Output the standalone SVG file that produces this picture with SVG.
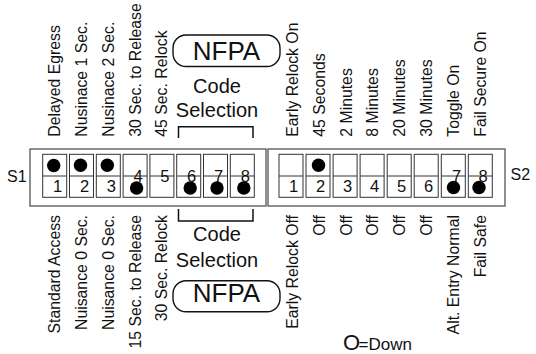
<svg xmlns="http://www.w3.org/2000/svg" width="536" height="354" viewBox="0 0 536 354">
<style>
text{font-family:"Liberation Sans",Arial,sans-serif;fill:#111}
.lbl{font-size:15.8px}
.top{text-anchor:start}
.bot{text-anchor:end}
.num{font-size:16.5px;text-anchor:middle}
.box{fill:#fff;stroke:#555;stroke-width:1.3}
.sw{fill:#fff;stroke:#333;stroke-width:1}
.mid{stroke:#333;stroke-width:1}
.dot{fill:#000}
.pill{fill:none;stroke:#111;stroke-width:1.4}
.br{fill:none;stroke:#111;stroke-width:1.5}
.big{font-size:26px;text-anchor:middle}
.cs{font-size:20px;text-anchor:middle}
</style>
<rect width="536" height="354" fill="#fff"/>

<g id="S1">
<rect class="box" x="30" y="149" width="236" height="57"/>
<g id="s1-sw1"><rect class="sw" x="42.7" y="154.3" width="24" height="43"/><line class="mid" x1="42.7" y1="176" x2="66.7" y2="176"/><circle class="dot" cx="53.7" cy="165.5" r="6.7"/><text class="num" x="57.7" y="192">1</text></g>
<g id="s1-sw2"><rect class="sw" x="69.5" y="154.3" width="24" height="43"/><line class="mid" x1="69.5" y1="176" x2="93.5" y2="176"/><circle class="dot" cx="80.5" cy="165.2" r="6.7"/><text class="num" x="84.5" y="192">2</text></g>
<g id="s1-sw3"><rect class="sw" x="96.3" y="154.3" width="24" height="43"/><line class="mid" x1="96.3" y1="176" x2="120.3" y2="176"/><circle class="dot" cx="107.3" cy="165.2" r="6.7"/><text class="num" x="111.3" y="192">3</text></g>
<g id="s1-sw4"><rect class="sw" x="123.1" y="154.3" width="24" height="43"/><line class="mid" x1="123.1" y1="176" x2="147.1" y2="176"/><circle class="dot" cx="136.6" cy="188" r="6.7"/><text class="num" x="138.1" y="181.8">4</text></g>
<g id="s1-sw5"><rect class="sw" x="149.9" y="154.3" width="24" height="43"/><line class="mid" x1="149.9" y1="176" x2="173.9" y2="176"/><text class="num" x="164.9" y="181.8">5</text></g>
<g id="s1-sw6"><rect class="sw" x="176.7" y="154.3" width="24" height="43"/><line class="mid" x1="176.7" y1="176" x2="200.7" y2="176"/><circle class="dot" cx="190.2" cy="188" r="6.7"/><text class="num" x="191.7" y="181.8">6</text></g>
<g id="s1-sw7"><rect class="sw" x="203.5" y="154.3" width="24" height="43"/><line class="mid" x1="203.5" y1="176" x2="227.5" y2="176"/><circle class="dot" cx="217" cy="188" r="6.7"/><text class="num" x="218.5" y="181.8">7</text></g>
<g id="s1-sw8"><rect class="sw" x="230.3" y="154.3" width="24" height="43"/><line class="mid" x1="230.3" y1="176" x2="254.3" y2="176"/><circle class="dot" cx="243.8" cy="188" r="6.7"/><text class="num" x="245.3" y="181.8">8</text></g>
<text x="7" y="182" font-size="16">S1</text>
</g>

<g id="S2">
<rect class="box" x="268" y="149" width="237" height="57"/>
<g id="s2-sw1"><rect class="sw" x="279" y="154.3" width="24" height="43"/><line class="mid" x1="279" y1="176" x2="303" y2="176"/><text class="num" x="293.5" y="192">1</text></g>
<g id="s2-sw2"><rect class="sw" x="306" y="154.3" width="24" height="43"/><line class="mid" x1="306" y1="176" x2="330" y2="176"/><circle class="dot" cx="318.5" cy="165.2" r="6.7"/><text class="num" x="320.5" y="192">2</text></g>
<g id="s2-sw3"><rect class="sw" x="333.1" y="154.3" width="24" height="43"/><line class="mid" x1="333.1" y1="176" x2="357.1" y2="176"/><text class="num" x="347.6" y="192">3</text></g>
<g id="s2-sw4"><rect class="sw" x="360.1" y="154.3" width="24" height="43"/><line class="mid" x1="360.1" y1="176" x2="384.1" y2="176"/><text class="num" x="374.6" y="192">4</text></g>
<g id="s2-sw5"><rect class="sw" x="387.2" y="154.3" width="24" height="43"/><line class="mid" x1="387.2" y1="176" x2="411.2" y2="176"/><text class="num" x="401.7" y="192">5</text></g>
<g id="s2-sw6"><rect class="sw" x="414.2" y="154.3" width="24" height="43"/><line class="mid" x1="414.2" y1="176" x2="438.2" y2="176"/><text class="num" x="428.7" y="192">6</text></g>
<g id="s2-sw7"><rect class="sw" x="441.3" y="154.3" width="24" height="43"/><line class="mid" x1="441.3" y1="176" x2="465.3" y2="176"/><circle class="dot" cx="453.5" cy="187.5" r="6.7"/><text class="num" x="456.5" y="181.8">7</text></g>
<g id="s2-sw8"><rect class="sw" x="468.3" y="154.3" width="24" height="43"/><line class="mid" x1="468.3" y1="176" x2="492.3" y2="176"/><circle class="dot" cx="479" cy="187.5" r="6.7"/><text class="num" x="483" y="181.8">8</text></g>
<text x="510.5" y="180" font-size="16">S2</text>
</g>

<g id="top-labels" class="lbl top">
<text transform="translate(60.2,136.7) rotate(-90)">Delayed Egress</text>
<text transform="translate(87,136.7) rotate(-90)">Nusinace 1 Sec.</text>
<text transform="translate(113.8,136.7) rotate(-90)">Nusinace 2 Sec.</text>
<text transform="translate(140.6,136.7) rotate(-90)">30 Sec. to Release</text>
<text transform="translate(167.4,136.7) rotate(-90)">45 Sec. Relock</text>
<text transform="translate(298,136.7) rotate(-90)">Early Relock On</text>
<text transform="translate(324.8,136.7) rotate(-90)">45 Seconds</text>
<text transform="translate(351.6,136.7) rotate(-90)">2 Minutes</text>
<text transform="translate(378.4,136.7) rotate(-90)">8 Minutes</text>
<text transform="translate(405.2,136.7) rotate(-90)">20 Minutes</text>
<text transform="translate(432,136.7) rotate(-90)">30 Minutes</text>
<text transform="translate(458.8,136.7) rotate(-90)">Toggle On</text>
<text transform="translate(485.6,136.7) rotate(-90)">Fail Secure On</text>
</g>

<g id="bottom-labels" class="lbl bot">
<text transform="translate(60.2,215) rotate(-90)">Standard Access</text>
<text transform="translate(87,215) rotate(-90)">Nuisance 0 Sec.</text>
<text transform="translate(113.8,215) rotate(-90)">Nuisance 0 Sec.</text>
<text transform="translate(140.6,215) rotate(-90)">15 Sec. to Release</text>
<text transform="translate(167.4,215) rotate(-90)">30 Sec. Relock</text>
<text transform="translate(298,215) rotate(-90)">Early Relock Off</text>
<text transform="translate(324.8,215) rotate(-90)">Off</text>
<text transform="translate(351.6,215) rotate(-90)">Off</text>
<text transform="translate(378.4,215) rotate(-90)">Off</text>
<text transform="translate(405.2,215) rotate(-90)">Off</text>
<text transform="translate(432,215) rotate(-90)">Off</text>
<text transform="translate(458.8,215) rotate(-90)">Alt. Entry Normal</text>
<text transform="translate(485.6,215) rotate(-90)">Fail Safe</text>
</g>

<g id="nfpa-top">
<rect class="pill" x="173" y="35" width="107" height="31.5" rx="13"/>
<text class="big" x="226.5" y="59.5">NFPA</text>
<text class="cs" x="217" y="92.5">Code</text>
<text class="cs" x="217" y="117">Selection</text>
</g>

<g id="nfpa-bottom">
<text class="cs" x="217" y="240.5">Code</text>
<text class="cs" x="217" y="266.5">Selection</text>
<rect class="pill" x="173" y="280.7" width="107" height="31" rx="13"/>
<text class="big" x="226.5" y="302">NFPA</text>
</g>

<g id="connectors">
<path class="br" d="M178.5,138 V126.7 H253 V138"/>
<path class="br" d="M178.5,209 V221 H253 V209"/>
</g>

<g id="legend">
<text x="343" y="350" font-size="22">O</text>
<text x="358.5" y="350" font-size="17">=Down</text>
</g>
</svg>
